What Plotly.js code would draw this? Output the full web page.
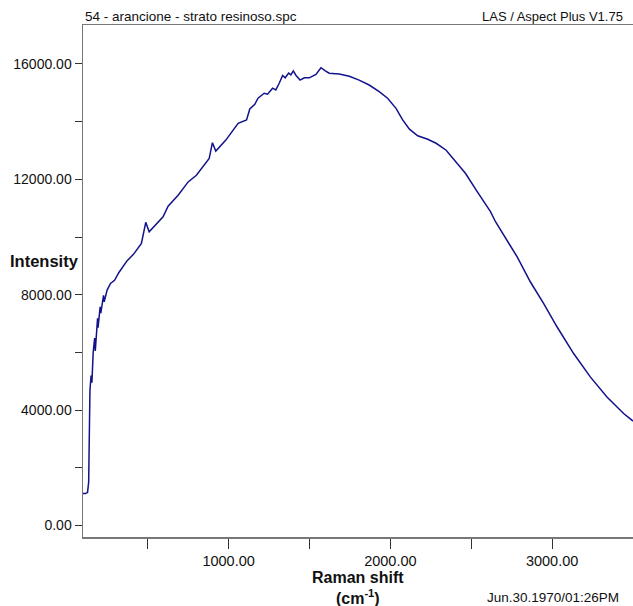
<!DOCTYPE html>
<html>
<head>
<meta charset="utf-8">
<script src="https://cdn.plot.ly/plotly-3.0.1.min.js"></script>
<style>
  html, body { margin: 0; padding: 0; background: #fff; }
  #chart { width: 633px; height: 606px; }
</style>
</head>
<body>
<div id="chart"></div>
<script>
// Raman shift (cm-1)
const ramanShift = [
  100, 115, 128, 135, 140, 143, 150, 155, 163, 172, 176, 190, 193, 206, 210, 227, 231,
  249, 270, 295, 322, 373, 412, 432, 461, 488, 509, 595, 626, 688, 750, 801, 880, 900,
  921, 983, 1059, 1111, 1131, 1162, 1182, 1220, 1241, 1272, 1292, 1313, 1334, 1350,
  1371, 1385, 1400, 1417, 1442, 1468, 1499, 1540, 1571, 1598, 1622, 1684, 1746, 1807,
  1869, 1931, 1983, 2035, 2076, 2118, 2169, 2231, 2283, 2345, 2392, 2464, 2537, 2619,
  2650, 2722, 2784, 2866, 2948, 3031, 3133, 3236, 3339, 3442, 3500
];
// Intensity
const intensity = [
  1110, 1110, 1140, 1500, 3500, 4690, 5200, 4950, 6000, 6500, 6050, 7180, 6860, 7580, 7360, 7980, 7750,
  8160, 8390, 8500, 8770, 9180, 9400, 9545, 9780, 10510, 10180, 10700, 11070, 11450, 11910, 12140, 12720, 13270,
  12980, 13360, 13940, 14060, 14440, 14600, 14810, 14985, 14950, 15160, 15100, 15330, 15600, 15520,
  15680, 15620, 15760, 15600, 15440, 15520, 15520, 15640, 15870, 15760, 15680, 15650, 15570, 15440,
  15270, 15040, 14810, 14460, 14060, 13740, 13510, 13390, 13250, 13010, 12680, 12210, 11570, 10880,
  10530, 9890, 9310, 8440, 7690, 6880, 5960, 5150, 4450, 3880, 3620
];
const xTickVals = [500, 1000, 1500, 2000, 2500, 3000];
const xTickText = ["", "1000.00", "", "2000.00", "", "3000.00"];
const yTickVals = [0, 2000, 4000, 6000, 8000, 10000, 12000, 14000, 16000];
const yTickText = ["0.00", "", "4000.00", "", "8000.00", "", "12000.00", "", "16000.00"];

const fontFam = "'Liberation Sans Narrow', 'Arial Narrow', 'Liberation Sans', sans-serif";

const trace = {
  x: ramanShift,
  y: intensity,
  type: 'scatter',
  mode: 'lines',
  line: { color: '#12128a', width: 1.5 },
  hoverinfo: 'skip'
};

const layout = {
  width: 633,
  height: 606,
  margin: { l: 83, r: 0, t: 25, b: 69 },
  paper_bgcolor: '#ffffff',
  plot_bgcolor: '#ffffff',
  showlegend: false,
  font: { family: fontFam, size: 14, color: '#111' },
  xaxis: {
    range: [100, 3500],
    showgrid: false,
    zeroline: false,
    showline: true,
    linecolor: '#777',
    linewidth: 1.5,
    mirror: true,
    ticks: 'outside',
    ticklen: 10,
    tickcolor: '#333',
    tickwidth: 1,
    tickmode: 'array',
    tickvals: xTickVals,
    ticktext: xTickText,
    tickfont: { family: fontFam, size: 14.5, color: '#111' }
  },
  yaxis: {
    range: [-400, 17350],
    showgrid: false,
    zeroline: false,
    showline: true,
    linecolor: '#777',
    linewidth: 1.5,
    ticks: 'outside',
    ticklen: 7,
    tickcolor: '#333',
    tickwidth: 1,
    tickmode: 'array',
    tickvals: yTickVals,
    ticktext: yTickText,
    tickfont: { family: fontFam, size: 14, color: '#111' }
  },
  annotations: [
    { text: '54 - arancione - strato resinoso.spc', xref: 'paper', yref: 'paper', x: 0, y: 1, xanchor: 'left', yanchor: 'bottom', yshift: -1, showarrow: false, font: { family: fontFam, size: 13.5, color: '#111' } },
    { text: 'LAS / Aspect Plus V1.75', xref: 'paper', yref: 'paper', x: 0.985, y: 1, xanchor: 'right', yanchor: 'bottom', yshift: -1, showarrow: false, font: { family: fontFam, size: 13, color: '#111' } },
    { text: '<b>Intensity</b>', xref: 'paper', yref: 'paper', x: -0.136, y: 0.539, xanchor: 'left', yanchor: 'middle', showarrow: false, font: { family: fontFam, size: 16.5, color: '#111' } },
    { text: '<b>Raman shift</b><br><b>(cm<sup>-1</sup>)</b>', xref: 'paper', yref: 'paper', x: 0.5, y: -0.0996, xanchor: 'center', yanchor: 'middle', align: 'center', showarrow: false, font: { family: fontFam, size: 16, color: '#111' } },
    { text: 'Jun.30.1970/01:26PM', xref: 'paper', yref: 'paper', x: 0.978, y: -0.099, xanchor: 'right', yanchor: 'top', showarrow: false, font: { family: fontFam, size: 13.5, color: '#111' } }
  ]
};

Plotly.newPlot('chart', [trace], layout, { displayModeBar: false, staticPlot: true });
</script>
</body>
</html>
